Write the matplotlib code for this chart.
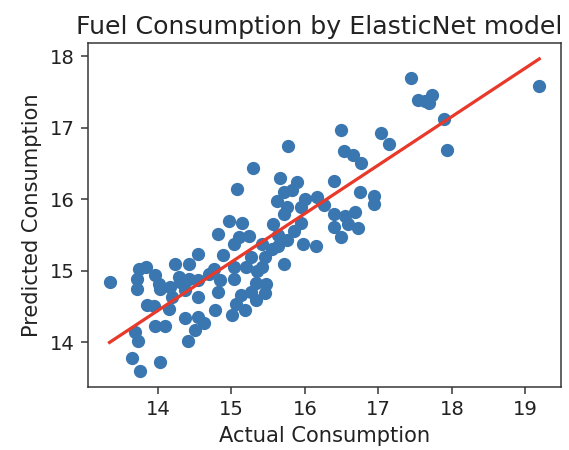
import matplotlib
matplotlib.use("Agg")
import matplotlib.pyplot as plt

# Actual vs predicted fuel consumption
actual = [
    16.49, 17.04, 17.14, 15.77, 16.53, 16.65, 16.76, 15.30, 15.66, 15.89,
    16.39, 15.07, 15.72, 15.83, 16.75, 16.94, 16.94, 15.62, 16.00, 16.17,
    16.26, 15.76, 15.94, 14.97, 15.14, 15.56, 15.72, 15.95, 16.40, 16.54,
    16.68, 16.40, 16.58, 16.72, 16.49, 14.82, 15.10, 15.24, 15.63, 15.76,
    15.97, 16.15, 15.04, 15.42, 15.63, 14.88, 15.26, 15.45, 15.72, 15.42,
    14.76, 15.04, 14.85, 15.04, 15.33, 15.47, 15.45, 15.26, 14.81, 15.13,
    17.90, 17.94,
    17.44, 17.54, 17.63, 17.69, 17.73, 19.19,
    13.34, 13.74, 13.83, 13.71, 13.71, 13.96, 14.01, 14.03, 14.17, 14.23,
    14.28, 14.42, 14.55, 14.42, 14.55, 14.37, 14.55, 13.85, 13.94, 14.15,
    14.19, 14.37, 14.55, 14.51, 14.41, 13.96, 14.09, 13.69, 13.73, 13.64,
    13.75, 14.03,
    14.62, 14.78, 15.01, 15.19, 15.06, 15.33,
    15.20, 15.35, 14.70, 15.55, 14.30, 15.85,
]
predicted = [
    16.97, 16.93, 16.77, 16.74, 16.68, 16.62, 16.51, 16.43, 16.29, 16.24,
    16.25, 16.14, 16.10, 16.13, 16.10, 16.04, 15.93, 15.98, 16.00, 16.03,
    15.92, 15.89, 15.89, 15.70, 15.67, 15.66, 15.80, 15.67, 15.80, 15.76,
    15.82, 15.61, 15.66, 15.60, 15.47, 15.52, 15.47, 15.48, 15.50, 15.43,
    15.38, 15.35, 15.38, 15.38, 15.34, 15.22, 15.20, 15.20, 15.09, 15.06,
    15.03, 15.06, 14.87, 14.89, 14.83, 14.82, 14.69, 14.71, 14.71, 14.66,
    17.12, 16.69,
    17.70, 17.39, 17.37, 17.35, 17.45, 17.58,
    14.84, 15.03, 15.06, 14.89, 14.74, 14.94, 14.82, 14.74, 14.77, 15.09,
    14.92, 15.10, 15.24, 14.89, 14.87, 14.73, 14.64, 14.52, 14.51, 14.47,
    14.64, 14.34, 14.36, 14.17, 14.02, 14.23, 14.23, 14.15, 14.02, 13.78,
    13.60, 13.73,
    14.27, 14.45, 14.38, 14.45, 14.54, 14.59,
    15.05, 15.00, 14.95, 15.30, 14.85, 15.55,
]

# Fitted line end points
fit_x = [13.34, 19.19]
fit_y = [14.00, 17.96]

title = "Fuel Consumption by ElasticNet model"
xlabel = "Actual Consumption"
ylabel = "Predicted Consumption"

dpi = 136
fig = plt.figure(figsize=(569 / dpi, 450 / dpi), dpi=dpi)
ax = fig.add_axes([0.1547, 0.1407, 0.8308, 0.7631])

ax.scatter(actual, predicted, color="#3a76af", zorder=2)
ax.plot(fit_x, fit_y, color="#e8392b", linewidth=1.7, zorder=3)

ax.set_title(title, fontsize=13.4, pad=5, x=0.49, color="#222222")
ax.set_xlabel(xlabel, fontsize=11.1, color="#222222")
ax.set_ylabel(ylabel, fontsize=11.1, color="#222222")

for sp in ax.spines.values():
    sp.set_color("#333333")
ax.tick_params(colors="#333333", labelcolor="#222222", labelsize=10.4)

fig.savefig("out.png", dpi=dpi)
